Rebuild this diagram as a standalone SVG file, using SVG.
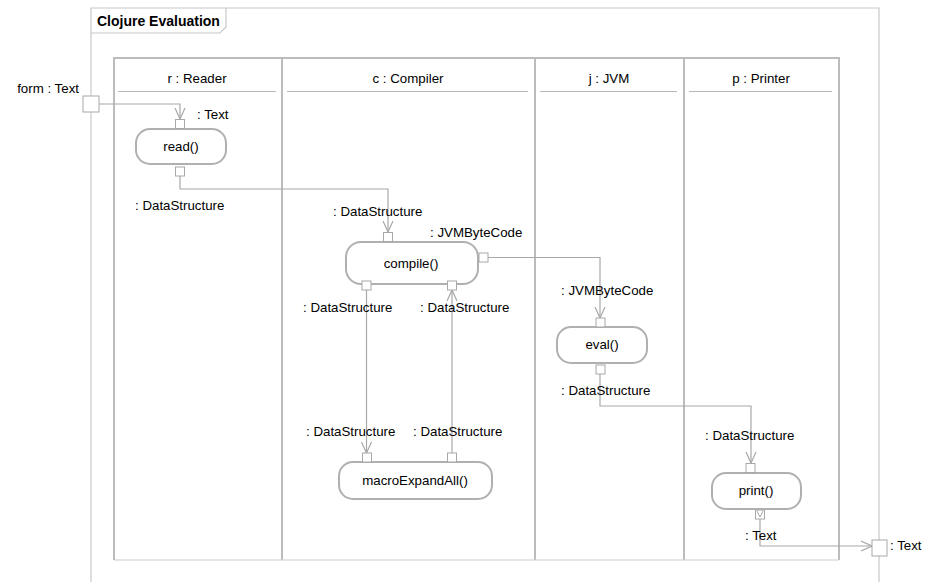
<svg xmlns="http://www.w3.org/2000/svg" width="929" height="582" viewBox="0 0 929 582">
<defs>
<style>
text{font-family:"Liberation Sans",Arial,sans-serif;font-size:13.3px;fill:#000}
.title{font-weight:bold;font-size:14px}
.c{text-anchor:middle}
.e{text-anchor:end}
.frame{fill:none;stroke:#c8c8c8;stroke-width:1.2}
.lane{fill:none;stroke:#bcbcbc;stroke-width:2}
.lanebot{fill:none;stroke:#cccccc;stroke-width:1.2}
.hdr{stroke:#b8b8b8;stroke-width:1}
.act{fill:#fff;stroke:#b0b0b0;stroke-width:2}
.pin{fill:#fff;stroke:#a8a8a8;stroke-width:1}
.port{fill:#fff;stroke:#a8a8a8;stroke-width:1}
.conn{fill:none;stroke:#a8a8a8;stroke-width:1.2;marker-end:url(#arr)}
</style>
<marker id="arr" viewBox="0 0 12 12" refX="11" refY="6" markerWidth="12" markerHeight="12" markerUnits="userSpaceOnUse" orient="auto">
<path d="M0,1 L11,6 L0,11" fill="none" stroke="#a8a8a8" stroke-width="1.2"/>
</marker>
</defs>

<g id="frame">
<path class="frame" d="M91,582 V8 H879 V582"/>
<path class="frame" d="M91,33 H220 L226,27 V8"/>
<text class="title" x="97" y="26">Clojure Evaluation</text>
</g>

<g id="lanes">
<path class="lane" d="M114,560 V58 H839 V560"/>
<line class="lane" x1="282" y1="58" x2="282" y2="560"/>
<line class="lane" x1="535" y1="58" x2="535" y2="560"/>
<line class="lane" x1="684" y1="58" x2="684" y2="560"/>
<line class="lanebot" x1="114" y1="560" x2="839" y2="560"/>
<line class="hdr" x1="118" y1="91.5" x2="276" y2="91.5"/>
<line class="hdr" x1="287" y1="91.5" x2="528" y2="91.5"/>
<line class="hdr" x1="540" y1="91.5" x2="677" y2="91.5"/>
<line class="hdr" x1="689" y1="91.5" x2="832" y2="91.5"/>
<text class="c" x="197" y="83">r : Reader</text>
<text class="c" x="408" y="83">c : Compiler</text>
<text class="c" x="609" y="83">j : JVM</text>
<text class="c" x="761" y="83">p : Printer</text>
</g>

<g id="connectors">
<polyline class="conn" points="99,104 180,104 180,119"/>
<polyline class="conn" points="180,176 180,189 388,189 388,232"/>
<polyline class="conn" points="488,257.5 600,257.5 600,318"/>
<polyline class="conn" points="366.5,290 366.5,453"/>
<polyline class="conn" points="452,453 452,290"/>
<polyline class="conn" points="600,373 600,406 751,406 751,463"/>
<polyline class="conn" points="760,519 760,546 872,546"/>
</g>

<g id="port-form">
<rect class="port" x="83" y="96" width="16" height="16"/>
<text class="e" x="79" y="93">form : Text</text>
</g>

<g id="port-out">
<rect class="port" x="872" y="540" width="15" height="16"/>
<text x="890" y="550">: Text</text>
</g>

<g id="read">
<rect class="act" x="136" y="129" width="90" height="35" rx="14"/>
<text class="c" x="181" y="151">read()</text>
<rect class="pin" x="175.5" y="119.5" width="9" height="9"/>
<rect class="pin" x="175.5" y="167" width="9" height="9"/>
<text x="197" y="119">: Text</text>
<text x="135" y="210">: DataStructure</text>
</g>

<g id="compile">
<rect class="act" x="346" y="242" width="132" height="42" rx="15"/>
<text class="c" x="411" y="268">compile()</text>
<rect class="pin" x="383.5" y="232.5" width="9" height="9"/>
<rect class="pin" x="479" y="253" width="9" height="9"/>
<rect class="pin" x="362" y="281" width="9" height="9"/>
<rect class="pin" x="447.5" y="281" width="9" height="9"/>
<text x="333" y="216">: DataStructure</text>
<text x="430" y="237">: JVMByteCode</text>
<text x="303" y="312">: DataStructure</text>
<text x="420" y="312">: DataStructure</text>
</g>

<g id="macroExpandAll">
<rect class="act" x="339" y="462" width="153" height="37" rx="14"/>
<text class="c" x="415" y="485">macroExpandAll()</text>
<rect class="pin" x="362.5" y="453" width="9" height="9"/>
<rect class="pin" x="447.5" y="453" width="9" height="9"/>
<text x="306" y="436">: DataStructure</text>
<text x="413" y="436">: DataStructure</text>
</g>

<g id="eval">
<rect class="act" x="557" y="327" width="90" height="36" rx="14"/>
<text class="c" x="602" y="349">eval()</text>
<rect class="pin" x="596" y="318" width="9" height="9"/>
<rect class="pin" x="596" y="365" width="9" height="9"/>
<text x="561" y="295">: JVMByteCode</text>
<text x="561" y="395">: DataStructure</text>
</g>

<g id="print">
<rect class="act" x="712" y="473" width="89" height="36" rx="14"/>
<text class="c" x="756" y="495">print()</text>
<rect class="pin" x="746" y="463.5" width="9" height="9"/>
<rect class="pin" x="755.5" y="510" width="9" height="9"/>
<polyline points="757,511 760,517 763,511" fill="none" stroke="#a8a8a8" stroke-width="1"/>
<text x="705" y="440">: DataStructure</text>
<text x="745" y="540">: Text</text>
</g>
</svg>
